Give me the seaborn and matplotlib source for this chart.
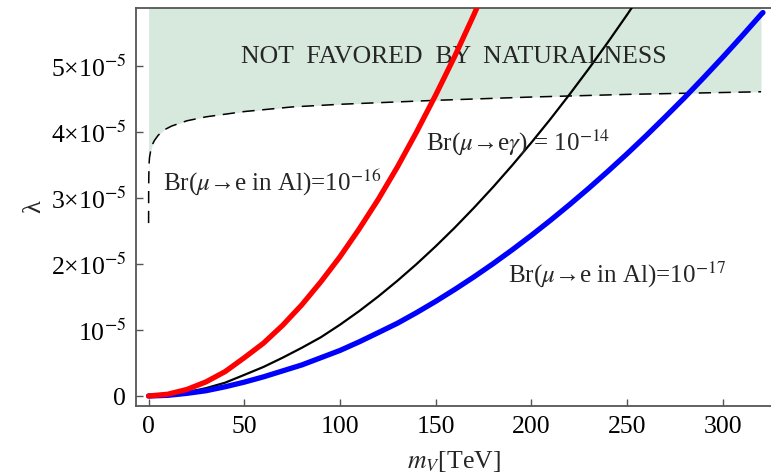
import matplotlib
matplotlib.use("Agg")
import matplotlib.pyplot as plt
import seaborn as sns
import numpy as np
import pandas as pd

# ---- data, lambda in units of 1e-5 ----
# red: Br(mu->e in Al)=1e-16
red_m = [0, 10, 20, 30, 40, 50, 60, 70, 80, 90, 100, 110, 120, 130, 140,
         150, 160, 170, 175]
red_l = [0, 0.027, 0.099, 0.214, 0.37, 0.58, 0.80, 1.07, 1.38, 1.73, 2.11,
         2.53, 2.98, 3.47, 4.00, 4.56, 5.15, 5.78, 6.11]
# black: Br(mu->e gamma)=1e-14
blk_m = [0, 10, 20, 30, 40, 50, 60, 70, 80, 90, 100, 110, 120, 130, 140, 150,
         160, 170, 180, 190, 200, 210, 220, 230, 240, 250, 260]
blk_l = [0, 0.016, 0.057, 0.119, 0.202, 0.32, 0.44, 0.58, 0.73, 0.89, 1.08,
         1.286, 1.508, 1.746, 1.999, 2.268, 2.552, 2.852, 3.166, 3.496, 3.84,
         4.198, 4.572, 4.959, 5.361, 5.777, 6.207]
# blue: Br(mu->e in Al)=1e-17
blu_m = [0, 10, 20, 30, 40, 50, 60, 70, 80, 90, 100, 110, 120, 130, 140, 150,
         160, 170, 180, 190, 200, 210, 220, 230, 240, 250, 260, 270, 280, 290,
         300, 310, 320, 321]
blu_l = [0, 0.01, 0.04, 0.08, 0.14, 0.21, 0.29, 0.38, 0.47, 0.58, 0.69, 0.82,
         0.96, 1.102, 1.263, 1.434, 1.615, 1.805, 2.005, 2.215, 2.434, 2.663,
         2.901, 3.148, 3.405, 3.67, 3.945, 4.23, 4.52, 4.823, 5.133, 5.453,
         5.781, 5.81]
# dashed naturalness bound
nat_m = [0.0, 0.05, 0.2, 0.5, 1, 2, 3, 5, 8, 12, 20, 30, 50, 75, 100, 150,
         200, 250, 320]
nat_l = [2.62, 3.2, 3.5, 3.62, 3.70, 3.81, 3.87, 3.95, 4.03, 4.09, 4.17, 4.23,
         4.31, 4.38, 4.42, 4.48, 4.53, 4.57, 4.61]
scale = 1e-5

yticks = [0, 1e-5, 2e-5, 3e-5, 4e-5, 5e-5]
ytick_labels = ["0", r"10$^{-5}$", r"2×10$^{-5}$", r"3×10$^{-5}$",
                r"4×10$^{-5}$", r"5×10$^{-5}$"]
xticks = [0, 50, 100, 150, 200, 250, 300]

sns.set_theme(style="white")
plt.rcParams["font.family"] = ["Liberation Serif", "DejaVu Serif"]
plt.rcParams["mathtext.fontset"] = "stix"

fig = plt.figure(figsize=(7.71, 4.75), dpi=100)
ax = fig.add_axes([136/771, 69/475, 1 - 136/771, 398/475])

nat_y = np.array(nat_l) * scale
ax.fill_between(nat_m, nat_y, 7e-5, color="#d7e8dd", lw=0, zorder=0)

df_r = pd.DataFrame({"m": red_m, "l": np.array(red_l) * scale})
df_k = pd.DataFrame({"m": blk_m, "l": np.array(blk_l) * scale})
df_b = pd.DataFrame({"m": blu_m, "l": np.array(blu_l) * scale})
df_n = pd.DataFrame({"m": nat_m, "l": nat_y})

sns.lineplot(data=df_n, x="m", y="l", ax=ax, color="black", lw=1.1,
             sort=False, zorder=2)
ax.lines[-1].set_dashes((8, 5))
sns.lineplot(data=df_k, x="m", y="l", ax=ax, color="black", lw=1.6, zorder=3,
             solid_joinstyle="round")
sns.lineplot(data=df_b, x="m", y="l", ax=ax, color="#0000ff", lw=3.8, zorder=3,
             solid_joinstyle="round")
sns.lineplot(data=df_r, x="m", y="l", ax=ax, color="#ff0000", lw=3.8, zorder=4,
             solid_joinstyle="round")

ax.set_xlim(-6.58, 325.2)
ax.set_ylim(-0.1515e-5, 5.879e-5)
ax.set_xticks(xticks)
ax.set_xticklabels([str(v) for v in xticks])
ax.set_yticks(yticks)
ax.set_yticklabels(ytick_labels)
ax.tick_params(direction="in", length=5, width=1, color="#555555",
               labelsize=18.5, labelcolor="black", pad=7,
               bottom=True, left=True)
for s in ["left", "bottom", "top"]:
    ax.spines[s].set_color("#555555")
    ax.spines[s].set_linewidth(1.3)
ax.spines["right"].set_visible(False)

ax.set_xlabel(r"$m_V$[TeV]", fontsize=18.5, labelpad=8)
ax.set_ylabel("λ", fontsize=19, labelpad=4)

ax.text(159.6, 5.14e-5, "NOT  FAVORED  BY  NATURALNESS", fontsize=18.5,
        ha="center", va="center")
ax.text(7.5, 3.23e-5, r"Br($\mu$→e in Al)=10$^{-16}$", fontsize=18,
        ha="left", va="center")
ax.text(144.9, 3.83e-5, r"Br($\mu$→e$\gamma$) = 10$^{-14}$", fontsize=18,
        ha="left", va="center")
ax.text(187.8, 1.83e-5, r"Br($\mu$→e in Al)=10$^{-17}$", fontsize=18,
        ha="left", va="center")

fig.savefig("out.png", dpi=100)
